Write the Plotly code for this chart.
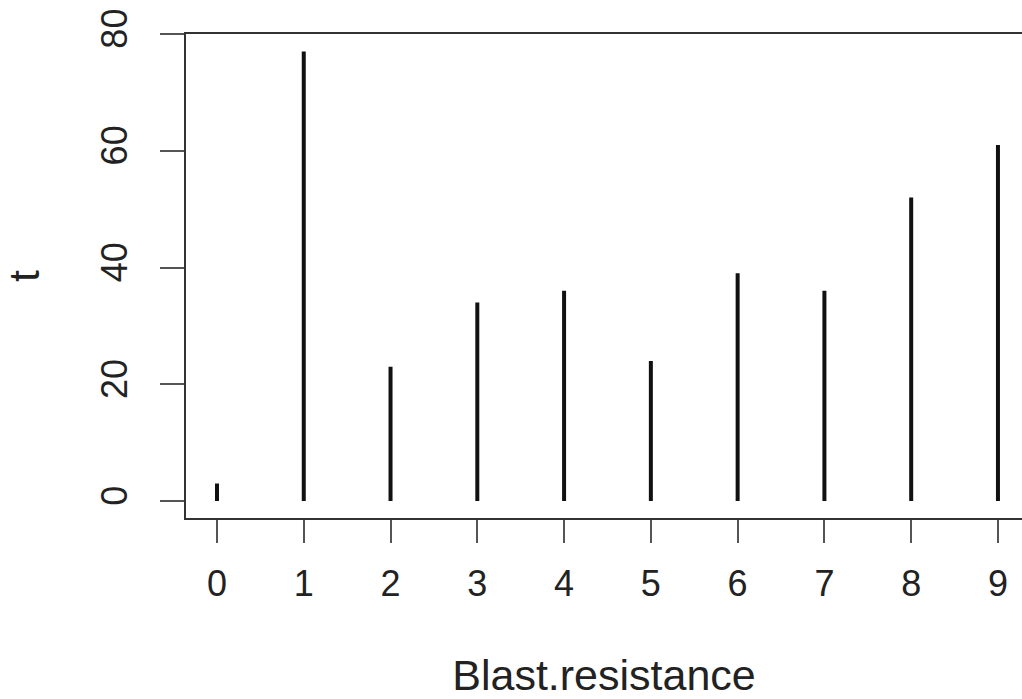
import plotly.graph_objects as go

categories = [0, 1, 2, 3, 4, 5, 6, 7, 8, 9]
counts = [3, 77, 23, 34, 36, 24, 39, 36, 52, 61]
y_ticks = [0, 20, 40, 60, 80]

xs, ys = [], []
for c, v in zip(categories, counts):
    xs += [c, c, None]
    ys += [0, v, None]

fig = go.Figure(go.Scatter(x=xs, y=ys, mode="lines",
                           line=dict(color="#111111", width=4),
                           hoverinfo="skip", showlegend=False))

font = dict(family="Liberation Sans, Arial, sans-serif", size=36, color="#222222")
fig.update_layout(
    width=1022, height=699,
    margin=dict(l=186, r=0, t=34, b=181),
    plot_bgcolor="white", paper_bgcolor="white",
    font=font,
    xaxis=dict(range=[-0.357, 9.277], tickvals=categories,
               ticktext=[str(c) for c in categories],
               showgrid=False, zeroline=False, automargin=False,
               showline=True, linecolor="#333333", linewidth=2, mirror=True,
               ticks="outside", ticklen=23, tickwidth=1.5, tickcolor="#555555",
               ticklabelstandoff=10,
               title=dict(text="Blast.resistance", standoff=58)),
    yaxis=dict(range=[-2.91, 80], tickvals=y_ticks,
               ticktext=[str(t) for t in y_ticks],
               showgrid=False, zeroline=False, automargin=False,
               showline=True, linecolor="#333333", linewidth=2, mirror=False,
               ticks="outside", ticklen=24, tickwidth=1.5, tickcolor="#555555",
               tickangle=-90, ticklabelstandoff=19,
               title=dict(text="t", standoff=67)),
)

fig.write_html("out.html")
